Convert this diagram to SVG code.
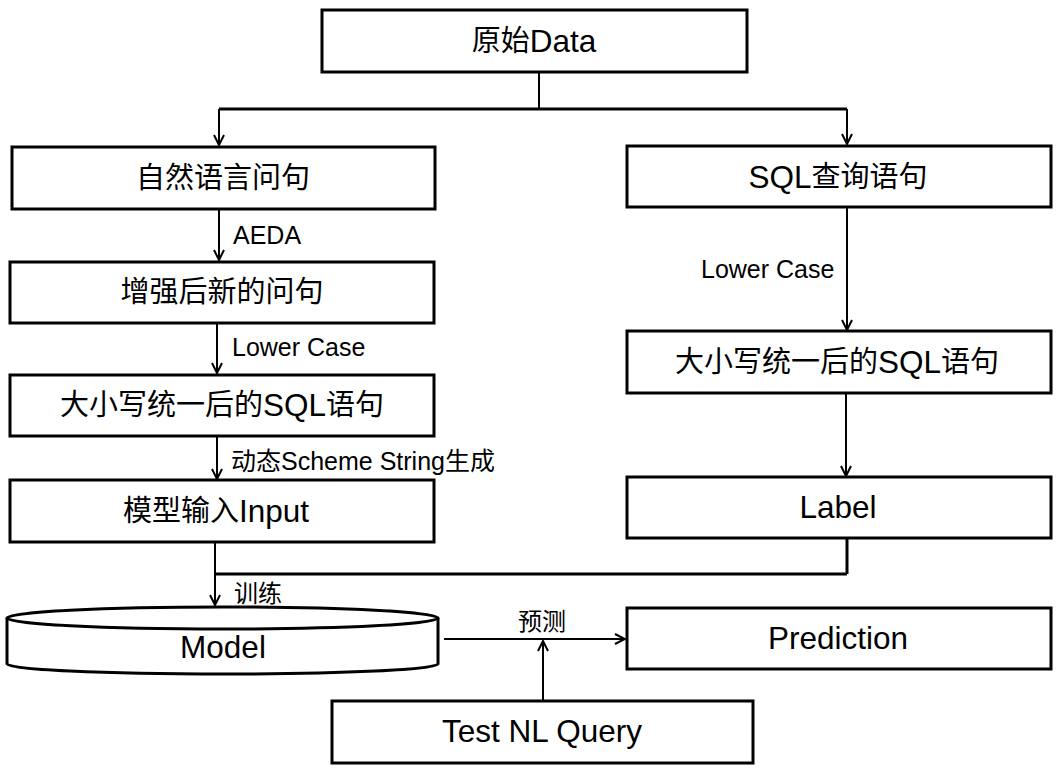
<svg xmlns="http://www.w3.org/2000/svg" width="1060" height="772" viewBox="0 0 1060 772">
<style>
.box{fill:#fff;stroke:#000;stroke-width:3}
.t{font-family:"Liberation Sans","Noto Sans CJK SC",sans-serif;font-size:29px;fill:#000;text-anchor:middle;dominant-baseline:central}
.t .e,.t.e{font-size:31.5px}
.l{font-family:"Liberation Sans","Noto Sans CJK SC",sans-serif;font-size:25px;fill:#000;dominant-baseline:central}
.l.k{font-size:24px}
.c{fill:none;stroke:#000;stroke-width:2}
.c3{fill:none;stroke:#000;stroke-width:3}
</style>
<defs>
<marker id="ah" viewBox="-12 -7 14 14" refX="0" refY="0" markerWidth="14" markerHeight="14" markerUnits="userSpaceOnUse" orient="auto">
<path d="M-10,-5 L0,0 L-10,5" fill="none" stroke="#000" stroke-width="2"/>
</marker>
</defs>
<rect width="1060" height="772" fill="#fff"/>
<g id="connectors">
<line class="c" x1="539" y1="72" x2="539" y2="109"/>
<line class="c3" x1="219" y1="109" x2="847" y2="109"/>
<line class="c" x1="219" y1="109" x2="219" y2="145" marker-end="url(#ah)"/>
<line class="c" x1="847" y1="109" x2="847" y2="144" marker-end="url(#ah)"/>
<line class="c" x1="219" y1="209" x2="219" y2="260" marker-end="url(#ah)"/>
<line class="c" x1="217" y1="323" x2="217" y2="373" marker-end="url(#ah)"/>
<line class="c" x1="217" y1="436" x2="217" y2="479" marker-end="url(#ah)"/>
<line class="c" x1="847" y1="207" x2="847" y2="330" marker-end="url(#ah)"/>
<line class="c" x1="846" y1="393" x2="846" y2="476" marker-end="url(#ah)"/>
<line class="c3" x1="847" y1="538" x2="847" y2="574"/>
<line class="c3" x1="215" y1="574" x2="847" y2="574"/>
<line class="c" x1="215" y1="542" x2="215" y2="605" marker-end="url(#ah)"/>
<line class="c" x1="444" y1="639" x2="625" y2="639" marker-end="url(#ah)"/>
<line class="c" x1="543" y1="700" x2="543" y2="641" marker-end="url(#ah)"/>
<text class="l" x="233" y="235">AEDA</text>
<text class="l" x="232" y="347">Lower Case</text>
<text class="l" x="231" y="461">动态Scheme String生成</text>
<text class="l" x="701" y="269">Lower Case</text>
<text class="l k" x="234" y="593">训练</text>
<text class="l k" x="518" y="621">预测</text>
</g>
<g id="n-raw"><rect class="box" x="322" y="10" width="425" height="62"/><text class="t" x="534" y="41">原始<tspan class="e">Data</tspan></text></g>
<g id="n-nl"><rect class="box" x="12" y="147" width="423" height="62"/><text class="t" x="223" y="178">自然语言问句</text></g>
<g id="n-sql"><rect class="box" x="627" y="146" width="424" height="61"/><text class="t" x="838" y="177"><tspan class="e">SQL</tspan>查询语句</text></g>
<g id="n-aug"><rect class="box" x="10" y="262" width="424" height="61"/><text class="t" x="222" y="292">增强后新的问句</text></g>
<g id="n-lower-l"><rect class="box" x="10" y="375" width="424" height="61"/><text class="t" x="222" y="405">大小写统一后的<tspan class="e">SQL</tspan>语句</text></g>
<g id="n-input"><rect class="box" x="10" y="480" width="424" height="62"/><text class="t" x="216" y="511">模型输入<tspan class="e">Input</tspan></text></g>
<g id="n-lower-r"><rect class="box" x="627" y="331" width="424" height="62"/><text class="t" x="837" y="362">大小写统一后的<tspan class="e">SQL</tspan>语句</text></g>
<g id="n-label"><rect class="box" x="627" y="477" width="424" height="61"/><text class="t e" x="838" y="507">Label</text></g>
<g id="n-model">
<path class="box" d="M7,618 L7,664 A215.5,10 0 0 0 438,664 L438,618"/>
<ellipse class="box" cx="222.5" cy="618" rx="215.5" ry="11"/>
<text class="t e" x="223" y="647">Model</text>
</g>
<g id="n-pred"><rect class="box" x="627" y="608" width="424" height="61"/><text class="t e" x="838" y="638">Prediction</text></g>
<g id="n-test"><rect class="box" x="332" y="701" width="421" height="62"/><text class="t e" x="542" y="731">Test NL Query</text></g>
</svg>
